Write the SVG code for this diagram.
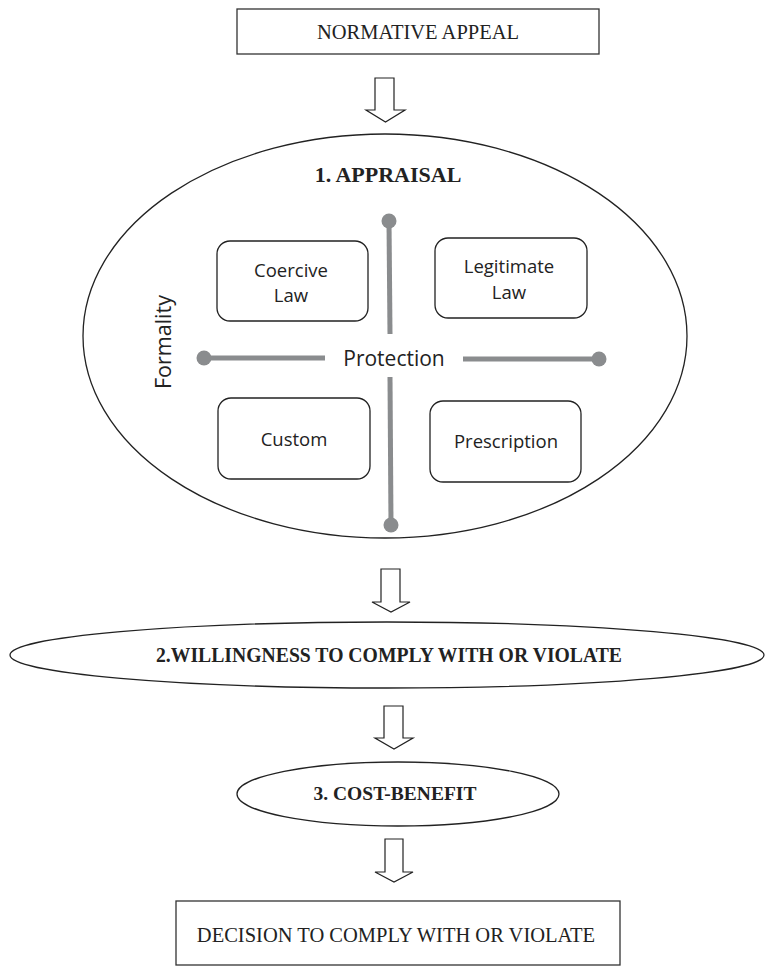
<svg xmlns="http://www.w3.org/2000/svg" width="766" height="968" viewBox="0 0 766 968">
<style>
.box{fill:#fff;stroke:#333;stroke-width:1.3}
.ell{fill:#fff;stroke:#222;stroke-width:1.3}
.rbox{fill:#fff;stroke:#222;stroke-width:1.3}
.serif{font-family:"Liberation Serif","Times New Roman",serif;fill:#222}
.bold{font-weight:bold}
.sans{font-family:"Open Sans","Noto Sans",sans-serif;fill:#222}
.axis{stroke:#8a8c8e;stroke-width:5;fill:none}
.dot{fill:#8a8c8e}
.arrow{fill:#fff;stroke:#222;stroke-width:1.2;stroke-linejoin:miter}
</style>
<rect width="766" height="968" fill="#fff"/>
<g id="normative-appeal">
<rect class="box" x="237" y="9" width="362" height="45"/>
<text class="serif" x="418" y="39" font-size="20.5" text-anchor="middle">NORMATIVE APPEAL</text>
</g>
<g id="appraisal">
<ellipse class="ell" cx="385" cy="336" rx="302" ry="202"/>
<text class="serif bold" x="388" y="182" font-size="22" text-anchor="middle">1. APPRAISAL</text>
<g id="axes">
<line class="axis" x1="389" y1="221" x2="390" y2="334"/>
<line class="axis" x1="390" y1="377" x2="391" y2="525"/>
<line class="axis" x1="204" y1="358" x2="325" y2="358"/>
<line class="axis" x1="463" y1="359" x2="599" y2="359"/>
<circle class="dot" cx="389" cy="221" r="7.5"/>
<circle class="dot" cx="391" cy="525" r="7.5"/>
<circle class="dot" cx="204" cy="358" r="7.5"/>
<circle class="dot" cx="599" cy="359" r="7.5"/>
</g>
<text class="sans" x="394" y="366" font-size="21" text-anchor="middle">Protection</text>
<text class="sans" transform="translate(171,342) rotate(-90)" font-size="21.5" text-anchor="middle">Formality</text>
</g>
<g id="coercive-law">
<rect class="rbox" x="217" y="241" width="151" height="80" rx="13"/>
<text class="sans" x="291" y="277" font-size="18.5" text-anchor="middle">Coercive</text>
<text class="sans" x="291" y="302" font-size="18.5" text-anchor="middle">Law</text>
</g>
<g id="legitimate-law">
<rect class="rbox" x="435" y="238" width="152" height="80" rx="13"/>
<text class="sans" x="509" y="273" font-size="18.5" text-anchor="middle">Legitimate</text>
<text class="sans" x="509" y="299" font-size="18.5" text-anchor="middle">Law</text>
</g>
<g id="custom">
<rect class="rbox" x="218" y="398" width="152" height="81" rx="13"/>
<text class="sans" x="294" y="446" font-size="18.5" text-anchor="middle">Custom</text>
</g>
<g id="prescription">
<rect class="rbox" x="430" y="401" width="151" height="81" rx="13"/>
<text class="sans" x="506" y="448" font-size="18.5" text-anchor="middle">Prescription</text>
</g>
<g id="willingness">
<ellipse class="ell" cx="387" cy="655" rx="377" ry="33"/>
<text class="serif bold" x="389" y="662" font-size="20.5" text-anchor="middle" textLength="466" lengthAdjust="spacingAndGlyphs">2.WILLINGNESS TO COMPLY WITH OR VIOLATE</text>
</g>
<g id="cost-benefit">
<ellipse class="ell" cx="398" cy="794" rx="161" ry="32"/>
<text class="serif bold" x="395" y="800" font-size="19.5" text-anchor="middle">3. COST-BENEFIT</text>
</g>
<g id="decision">
<rect class="box" x="176" y="901" width="444" height="64"/>
<text class="serif" x="396" y="942" font-size="20.5" text-anchor="middle">DECISION TO COMPLY WITH OR VIOLATE</text>
</g>
<g id="connectors">
<polygon class="arrow" points="375,78 394,78 394,110 405,110 385.5,122 366,110 375,110"/>
<polygon class="arrow" points="381,569 400,569 400,602 410,602 391,612 372,602 381,602"/>
<polygon class="arrow" points="384,706 403,706 403,738 413,738 394,749 375,738 384,738"/>
<polygon class="arrow" points="385,839 403,839 403,872 413,872 394,882 375,872 385,872"/>
</g>
</svg>
